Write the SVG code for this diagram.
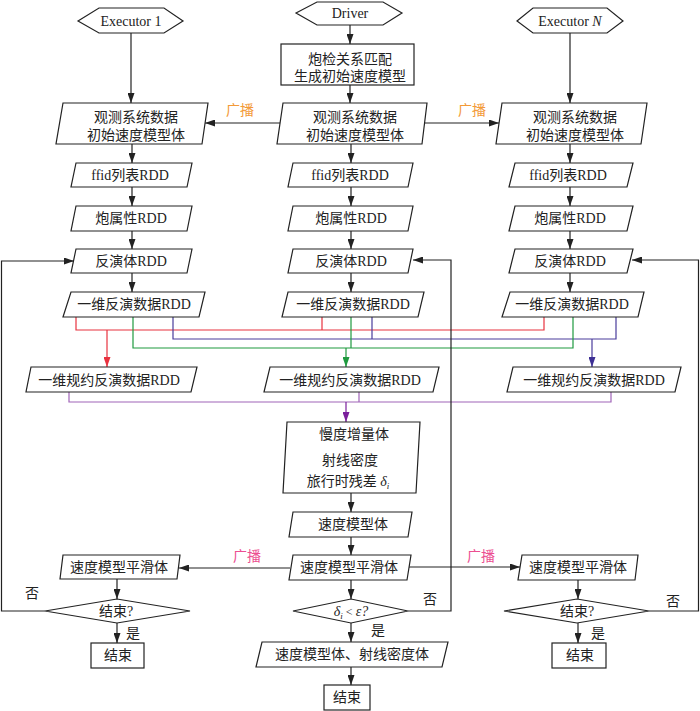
<svg xmlns="http://www.w3.org/2000/svg" width="700" height="711" viewBox="0 0 700 711">
<style>
.s{fill:#fff;stroke:#222;stroke-width:1.2}
.t{font-family:"Liberation Serif","Noto Sans CJK SC",serif;font-size:14px;fill:#222;text-anchor:middle}
.c{fill:none;stroke:#222;stroke-width:1.2}
.o{font-family:"Liberation Serif","Noto Sans CJK SC",serif;font-size:14px;fill:#f39a38;text-anchor:middle}
.p{font-family:"Liberation Serif","Noto Sans CJK SC",serif;font-size:14px;fill:#ec4f91;text-anchor:middle}
.red{fill:none;stroke:#e8323f;stroke-width:1.2}
.blu{fill:none;stroke:#4a3c9c;stroke-width:1.2}
.grn{fill:none;stroke:#1f9a3f;stroke-width:1.2}
.pur{fill:none;stroke:#a064b8;stroke-width:1.2}
</style>
<defs>
<marker id="ak" markerWidth="10" markerHeight="7" refX="10" refY="3.5" orient="auto" markerUnits="userSpaceOnUse"><path d="M0,0 L10,3.5 L0,7 Z" fill="#222"/></marker>
<marker id="ar" markerWidth="10" markerHeight="7" refX="10" refY="3.5" orient="auto" markerUnits="userSpaceOnUse"><path d="M0,0 L10,3.5 L0,7 Z" fill="#e8323f"/></marker>
<marker id="ab" markerWidth="10" markerHeight="7" refX="10" refY="3.5" orient="auto" markerUnits="userSpaceOnUse"><path d="M0,0 L10,3.5 L0,7 Z" fill="#3d2f94"/></marker>
<marker id="ag" markerWidth="10" markerHeight="7" refX="10" refY="3.5" orient="auto" markerUnits="userSpaceOnUse"><path d="M0,0 L10,3.5 L0,7 Z" fill="#1f9a3f"/></marker>
<marker id="ap" markerWidth="10" markerHeight="7" refX="10" refY="3.5" orient="auto" markerUnits="userSpaceOnUse"><path d="M0,0 L10,3.5 L0,7 Z" fill="#7a1f9c"/></marker>
</defs>
<rect width="700" height="711" fill="#fff"/>

<g id="connectors">
<path class="c" d="M131,33 V103" marker-end="url(#ak)"/>
<path class="c" d="M350,25 V44" marker-end="url(#ak)"/>
<path class="c" d="M350,85 V103" marker-end="url(#ak)"/>
<path class="c" d="M570,33 V103" marker-end="url(#ak)"/>
<path class="c" d="M280,123 H205" marker-end="url(#ak)"/>
<path class="c" d="M424,123 H499" marker-end="url(#ak)"/>
<path class="c" d="M132,144 V163" marker-end="url(#ak)"/>
<path class="c" d="M132,187 V206" marker-end="url(#ak)"/>
<path class="c" d="M132,231 V249" marker-end="url(#ak)"/>
<path class="c" d="M132,273 V292" marker-end="url(#ak)"/>
<path class="c" d="M351,144 V163" marker-end="url(#ak)"/>
<path class="c" d="M351,187 V206" marker-end="url(#ak)"/>
<path class="c" d="M351,231 V249" marker-end="url(#ak)"/>
<path class="c" d="M351,273 V292" marker-end="url(#ak)"/>
<path class="c" d="M570,144 V163" marker-end="url(#ak)"/>
<path class="c" d="M570,187 V206" marker-end="url(#ak)"/>
<path class="c" d="M570,231 V249" marker-end="url(#ak)"/>
<path class="c" d="M570,273 V292" marker-end="url(#ak)"/>

<path class="red" d="M76,317 V330 H544 V317 M322,317 V330"/>
<path class="red" d="M107,330 V367" marker-end="url(#ar)"/>
<path class="blu" d="M173,317 V339 H616 V317 M372,317 V339"/>
<path class="blu" d="M592,339 V367" marker-end="url(#ab)"/>
<path class="grn" d="M133,317 V348 H573 V317 M351,317 V348"/>
<path class="grn" d="M346,348 V367" marker-end="url(#ag)"/>
<path class="pur" d="M69,392 V402 H611 V392 M359,392 V402"/>
<path d="M346,402 V422" fill="none" stroke="#7a1f9c" stroke-width="1.2" marker-end="url(#ap)"/>

<path class="c" d="M351,493 V512" marker-end="url(#ak)"/>
<path class="c" d="M351,537 V555" marker-end="url(#ak)"/>
<path class="c" d="M351,580 V599" marker-end="url(#ak)"/>
<path class="c" d="M351,623 V642" marker-end="url(#ak)"/>
<path class="c" d="M351,667 V685" marker-end="url(#ak)"/>
<path class="c" d="M290,568 H179" marker-end="url(#ak)"/>
<path class="c" d="M409,567 H520" marker-end="url(#ak)"/>
<path class="c" d="M117,579 V599" marker-end="url(#ak)"/>
<path class="c" d="M117,623 V643" marker-end="url(#ak)"/>
<path class="c" d="M578,580 V599" marker-end="url(#ak)"/>
<path class="c" d="M578,623 V643" marker-end="url(#ak)"/>
<path class="c" d="M45,611 H1.5 V261 H74" marker-end="url(#ak)"/>
<path class="c" d="M408,611 H451 V260 H413" marker-end="url(#ak)"/>
<path class="c" d="M649,611 H698.5 V260 H632" marker-end="url(#ak)"/>

<text class="o" x="240" y="115">广播</text>
<text class="o" x="472" y="115">广播</text>
<text class="p" x="247" y="561">广播</text>
<text class="p" x="481" y="561">广播</text>
<text class="t" x="32" y="598">否</text>
<text class="t" x="430" y="604">否</text>
<text class="t" x="673" y="606">否</text>
<text class="t" x="133" y="638">是</text>
<text class="t" x="378" y="635">是</text>
<text class="t" x="598" y="638">是</text>
</g>

<g id="exec1"><polygon class="s" points="78,21 99,8 164,8 183,21 164,33 99,33"/><text class="t" x="131" y="26">Executor 1</text></g>
<g id="driver"><polygon class="s" points="296,13 317,2 383,2 402,13 383,25 317,25"/><text class="t" x="350" y="18">Driver</text></g>
<g id="execN"><polygon class="s" points="517,21 533,8 607,8 623,21 607,33 533,33"/><text class="t" x="570" y="26">Executor <tspan font-style="italic">N</tspan></text></g>
<g id="match"><rect class="s" x="281" y="44" width="133" height="41"/><text class="t" x="350" y="64">炮检关系匹配</text><text class="t" x="350" y="81">生成初始速度模型</text></g>

<g id="obsL"><polygon class="s" points="63,103 208,103 202,144 56,144"/><text class="t" x="136" y="122">观测系统数据</text><text class="t" x="136" y="140">初始速度模型体</text></g>
<g id="obsM"><polygon class="s" points="283,103 427,103 422,144 277,144"/><text class="t" x="355" y="122">观测系统数据</text><text class="t" x="355" y="140">初始速度模型体</text></g>
<g id="obsR"><polygon class="s" points="502,103 647,103 641,144 496,144"/><text class="t" x="575" y="122">观测系统数据</text><text class="t" x="575" y="140">初始速度模型体</text></g>

<g id="ffidL"><polygon class="s" points="76,163 192,163 187,187 71,187"/><text class="t" x="130" y="180">ffid列表RDD</text></g>
<g id="ffidM"><polygon class="s" points="293,163 413,163 408,187 288,187"/><text class="t" x="350" y="180">ffid列表RDD</text></g>
<g id="ffidR"><polygon class="s" points="515,163 633,163 627,187 509,187"/><text class="t" x="568" y="180">ffid列表RDD</text></g>

<g id="shotL"><polygon class="s" points="76,206 192,206 187,231 71,231"/><text class="t" x="131" y="223">炮属性RDD</text></g>
<g id="shotM"><polygon class="s" points="293,206 413,206 408,231 288,231"/><text class="t" x="351" y="223">炮属性RDD</text></g>
<g id="shotR"><polygon class="s" points="515,206 633,206 627,231 509,231"/><text class="t" x="570" y="223">炮属性RDD</text></g>

<g id="invL"><polygon class="s" points="76,249 192,249 187,273 71,273"/><text class="t" x="131" y="266">反演体RDD</text></g>
<g id="invM"><polygon class="s" points="293,249 413,249 408,273 288,273"/><text class="t" x="351" y="266">反演体RDD</text></g>
<g id="invR"><polygon class="s" points="515,249 633,249 627,273 509,273"/><text class="t" x="570" y="266">反演体RDD</text></g>

<g id="d1L"><polygon class="s" points="71,292 205,292 199,317 63,317"/><text class="t" x="134" y="309">一维反演数据RDD</text></g>
<g id="d1M"><polygon class="s" points="288,292 424,292 418,317 282,317"/><text class="t" x="353" y="309">一维反演数据RDD</text></g>
<g id="d1R"><polygon class="s" points="510,292 644,292 638,317 502,317"/><text class="t" x="572" y="309">一维反演数据RDD</text></g>

<g id="redL"><polygon class="s" points="31,367 197,367 191,392 26,392"/><text class="t" x="109" y="385">一维规约反演数据RDD</text></g>
<g id="redM"><polygon class="s" points="270,367 439,367 433,392 264,392"/><text class="t" x="350" y="385">一维规约反演数据RDD</text></g>
<g id="redR"><polygon class="s" points="513,367 681,367 675,392 507,392"/><text class="t" x="594" y="385">一维规约反演数据RDD</text></g>

<g id="slow"><polygon class="s" points="287,422 420,422 416,493 283,493"/><text class="t" x="354" y="439">慢度增量体</text><text class="t" x="350" y="465">射线密度</text><text class="t" x="348" y="486">旅行时残差 <tspan font-style="italic">δ</tspan><tspan font-style="italic" font-size="9" dy="3">i</tspan></text></g>
<g id="vel"><polygon class="s" points="293,512 412,512 408,537 289,537"/><text class="t" x="353" y="529">速度模型体</text></g>
<g id="smM"><polygon class="s" points="293,555 411,555 407,580 289,580"/><text class="t" x="349" y="572">速度模型平滑体</text></g>
<g id="decM"><polygon class="s" points="293,611 351,599 408,611 351,623"/><text class="t" x="351" y="616"><tspan font-style="italic">δ</tspan><tspan font-style="italic" font-size="9" dy="3">i</tspan><tspan dy="-3" font-size="12"> &lt; </tspan><tspan font-style="italic">ε</tspan><tspan font-style="italic">?</tspan></text></g>
<g id="outM"><polygon class="s" points="262,642 448,642 442,667 256,667"/><text class="t" x="352" y="659">速度模型体、射线密度体</text></g>
<g id="endM"><rect class="s" x="324" y="685" width="46" height="25"/><text class="t" x="347" y="702">结束</text></g>

<g id="smL"><polygon class="s" points="63,555 180,555 177,579 60,579"/><text class="t" x="119" y="572">速度模型平滑体</text></g>
<g id="decL"><polygon class="s" points="45,611 117,599 190,611 117,623"/><text class="t" x="116" y="616">结束?</text></g>
<g id="endL"><rect class="s" x="91" y="643" width="53" height="25"/><text class="t" x="118" y="660">结束</text></g>

<g id="smR"><polygon class="s" points="522,555 638,555 635,580 518,580"/><text class="t" x="578" y="572">速度模型平滑体</text></g>
<g id="decR"><polygon class="s" points="504,611 577,599 649,611 577,623"/><text class="t" x="577" y="616">结束?</text></g>
<g id="endR"><rect class="s" x="552" y="643" width="54" height="25"/><text class="t" x="580" y="660">结束</text></g>
</svg>
